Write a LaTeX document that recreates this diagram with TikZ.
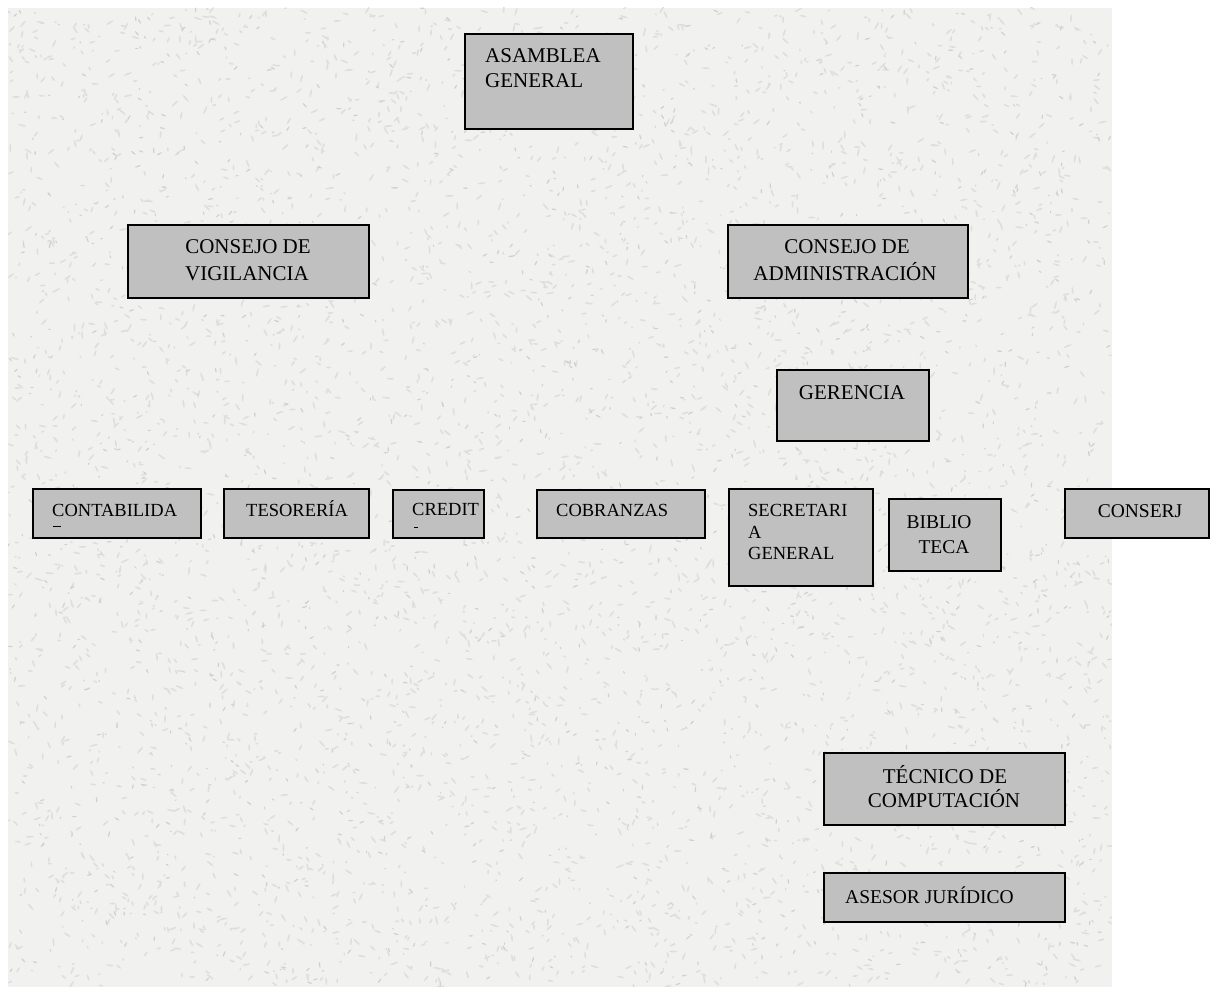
\documentclass[tikz,border=0pt]{standalone}
\usepackage{fontspec}
\setmainfont{Liberation Serif}
\definecolor{bggray}{HTML}{F1F1EF}
\definecolor{speckmid}{HTML}{DEDEDC}
\definecolor{speckdark}{HTML}{D0D0CE}
\definecolor{boxgray}{HTML}{C0C0C0}
\begin{document}
\begin{tikzpicture}[x=1pt,y=-1pt,
  box/.style={draw=black, line width=2pt, fill=boxgray, inner sep=0pt, anchor=north west},
  big/.style={font=\fontsize{21}{25}\selectfont, inner sep=0pt, text=black},
  small/.style={font=\fontsize{18.5}{22}\selectfont, inner sep=0pt, text=black},
  mid/.style={font=\fontsize{19.5}{23}\selectfont, inner sep=0pt, text=black},
  stub/.style={line width=1pt, black}
]
\useasboundingbox (0,0) rectangle (1215,987);
\fill[white] (0,0) rectangle (1215,987);
\fill[bggray] (8,8) rectangle (1112,987);
% marble-like texture
\begin{scope}
\clip (8,8) rectangle (1112,987);
\pgfmathsetseed{3}
\foreach \i in {1,...,4200}{
  \pgfmathsetmacro\xx{8+1104*rnd}
  \pgfmathsetmacro\yy{8+979*rnd}
  \pgfmathsetmacro\rr{1.5+3*rnd}
  \pgfmathsetmacro\aa{180*rnd}
  \fill[speckmid, rotate around={\aa:(\xx,\yy)}] (\xx,\yy) ellipse[x radius=\rr, y radius=0.9];
}
\foreach \i in {1,...,1500}{
  \pgfmathsetmacro\xx{8+1104*rnd}
  \pgfmathsetmacro\yy{8+979*rnd}
  \pgfmathsetmacro\rr{1+2*rnd}
  \pgfmathsetmacro\aa{180*rnd}
  \fill[speckdark, rotate around={\aa:(\xx,\yy)}] (\xx,\yy) ellipse[x radius=\rr, y radius=0.7];
}
\end{scope}

% boxes
\node[box, minimum width=168pt, minimum height=95pt] (asamblea) at (464,33) {};
\node[box, minimum width=241pt, minimum height=73pt] (vigilancia) at (127,224) {};
\node[box, minimum width=240pt, minimum height=73pt] (admin) at (727,224) {};
\node[box, minimum width=152pt, minimum height=71pt] (gerencia) at (776,369) {};
\node[box, minimum width=168pt, minimum height=49pt] (contab) at (32,488) {};
\node[box, minimum width=145pt, minimum height=49pt] (tesoreria) at (223,488) {};
\node[box, minimum width=91pt, minimum height=48pt] (credito) at (392,489) {};
\node[box, minimum width=168pt, minimum height=48pt] (cobranzas) at (536,489) {};
\node[box, minimum width=144pt, minimum height=97pt] (secretaria) at (728,488) {};
\node[box, minimum width=112pt, minimum height=72pt] (biblioteca) at (888,498) {};
\node[box, minimum width=144pt, minimum height=49pt] (conserje) at (1064,488) {};
\node[box, minimum width=241pt, minimum height=72pt] (tecnico) at (823,752) {};
\node[box, minimum width=241pt, minimum height=49pt] (asesor) at (823,872) {};

% texts
\node[big, anchor=base west] (t-asa1) at (485,63) {ASAMBLEA};
\node[big, anchor=base west] (t-asa2) at (485,88) {GENERAL};
\node[big, anchor=base] (t-vig1) at (248,253) {CONSEJO DE};
\node[big, anchor=base] (t-vig2) at (247,280) {VIGILANCIA};
\node[big, anchor=base] (t-adm1) at (847,253) {CONSEJO DE};
\node[big, anchor=base] (t-adm2) at (845,280) {ADMINISTRACIÓN};
\node[big, anchor=base] (t-ger) at (852,399) {GERENCIA};
\node[small, anchor=base west] (t-con) at (52,516) {CONTABILIDA};
\draw[stub] (53,526) -- (61,526);
\node[small, anchor=base west] (t-tes) at (246,516) {TESORERÍA};
\node[small, anchor=base west] (t-cre) at (412,515) {CREDIT};
\draw[stub] (414,527) -- (418,527);
\node[small, anchor=base west] (t-cob) at (556,516) {COBRANZAS};
\node[small, anchor=base west] (t-sec1) at (748,516) {SECRETARI};
\node[small, anchor=base west] (t-sec2) at (748,538) {A};
\node[small, anchor=base west] (t-sec3) at (748,559) {GENERAL};
\node[mid, anchor=base] (t-bib1) at (939,528) {BIBLIO};
\node[mid, anchor=base] (t-bib2) at (944,553) {TECA};
\node[mid, anchor=base] (t-cnj) at (1140,517) {CONSERJ};
\node[big, anchor=base] (t-tec1) at (945,783) {TÉCNICO DE};
\node[big, anchor=base] (t-tec2) at (944,807) {COMPUTACIÓN};
\node[mid, anchor=base west] (t-ase) at (845,903) {ASESOR JURÍDICO};
\end{tikzpicture}
\end{document}
